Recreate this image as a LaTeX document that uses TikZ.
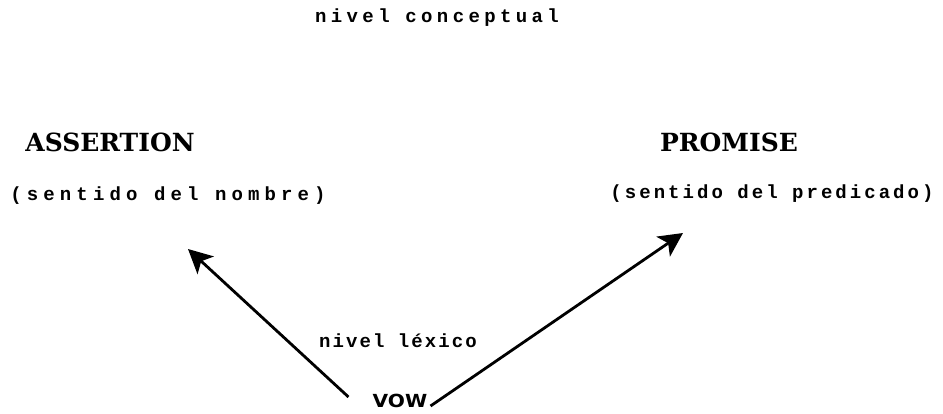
\documentclass[tikz,border=0pt]{standalone}
\usepackage{fontspec}
\newfontfamily\twb{Liberation Mono Bold}
\newfontfamily\capfont{DejaVu Serif Bold}
\newfontfamily\vowfont{DejaVu Sans Bold}
\usetikzlibrary{arrows.meta}
\tikzset{
  smalltxt/.style={inner sep=0pt, anchor=center, font=\twb\fontsize{19}{19}\selectfont},
  bigtxt/.style={inner sep=0pt, anchor=center, font=\capfont\fontsize{25}{25}\selectfont},
  vowtxt/.style={inner sep=0pt, anchor=center, font=\vowfont\fontsize{18}{18}\selectfont},
  arr/.style={line width=2.8pt, -{Stealth[length=24pt,width=24pt,inset=6pt]}}
}
\begin{document}
\begin{tikzpicture}[x=1pt,y=-1pt]
\useasboundingbox (0,0) rectangle (943,413);
\node[smalltxt] (conc) at (437,18) {\addfontfeature{LetterSpace=23}nivel conceptual};
\node[bigtxt] (assert) at (110,142) {ASSERTION};
\node[bigtxt] (prom) at (729,142) {PROMISE};
\node[smalltxt] (nombre) at (168,196) {\addfontfeature{LetterSpace=27}(sentido del nombre)};
\node[smalltxt] (predic) at (772,194) {\addfontfeature{LetterSpace=16}(sentido del predicado)};
\node[smalltxt] (lex) at (398,341) {\addfontfeature{LetterSpace=11}nivel léxico};
\node[vowtxt] (vow) at (400,401) {\scalebox{1.12}[1]{VOW}};
\coordinate (ltip) at (188,249);
\coordinate (rtip) at (683,233);
\draw[arr] ([shift={(-24,-4)}]vow.west) -- (ltip);
\draw[arr] ([shift={(3,-2)}]vow.south east) -- (rtip);
\end{tikzpicture}
\end{document}
